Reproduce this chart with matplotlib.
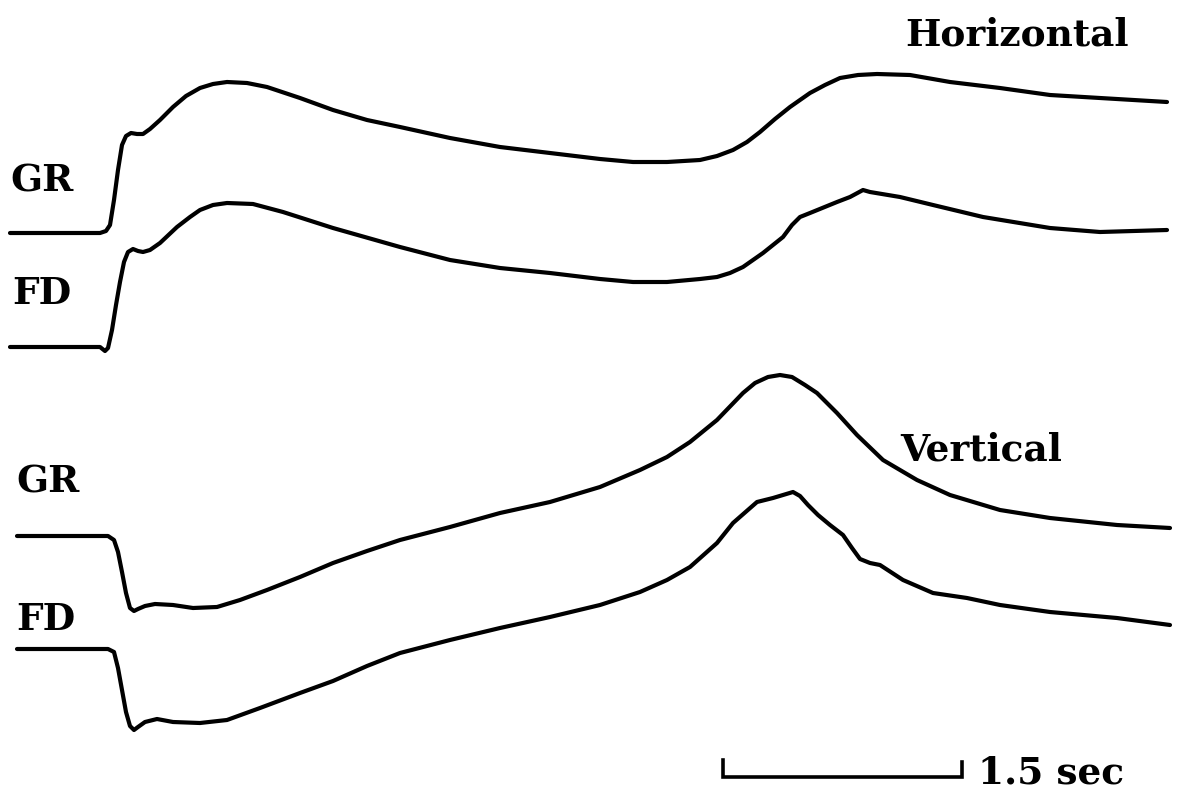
import matplotlib
matplotlib.use('Agg')
import matplotlib.pyplot as plt

# eye position traces (x = time samples, y = position, screen units)
h_gr_t = [10, 100, 106, 110, 114, 118, 122, 126, 131, 137, 143, 150, 160, 173, 186, 200, 213,
          227, 247, 267, 300, 333, 367, 400, 450, 500, 550, 600, 633, 667, 700, 717, 733,
          747, 760, 775, 790, 810, 825, 840, 858, 877, 910, 950, 1000, 1050, 1100, 1167]
h_gr_y = [233, 233, 231, 225, 200, 170, 145, 136, 133, 134, 134, 129, 120, 107, 96, 88, 84,
          82, 83, 87, 98, 110, 120, 127, 138, 147, 153, 159, 162, 162, 160, 156, 150,
          142, 132, 119, 107, 93, 85, 78, 75, 74, 75, 82, 88, 95, 98, 102]

h_fd_t = [10, 100, 105, 108, 112, 116, 120, 124, 128, 133, 138, 143, 150, 160, 177, 190, 200,
          213, 227, 253, 283, 333, 400, 450, 500, 550, 600, 633, 667, 700, 717, 730, 743,
          763, 783, 792, 800, 810, 837, 850, 863, 870, 900, 933, 983, 1050, 1100, 1167]
h_fd_y = [347, 347, 351, 348, 330, 305, 282, 262, 252, 249, 251, 252, 250, 243, 227, 217, 210,
          205, 203, 204, 212, 228, 247, 260, 268, 273, 279, 282, 282, 279, 277, 273, 267,
          253, 237, 225, 217, 213, 202, 197, 190, 192, 197, 205, 217, 228, 232, 230]

v_gr_t = [17, 108, 114, 118, 122, 126, 130, 134, 138, 145, 155, 173, 193, 217, 240, 267, 300,
          333, 367, 400, 450, 500, 550, 600, 640, 667, 690, 717, 743, 755, 768, 780, 792,
          805, 817, 837, 857, 883, 917, 950, 1000, 1050, 1117, 1170]
v_gr_y = [536, 536, 540, 552, 572, 593, 608, 611, 609, 606, 604, 605, 608, 607, 600, 590, 577,
          563, 551, 540, 527, 513, 502, 487, 470, 457, 442, 420, 393, 383, 377, 375, 377,
          385, 393, 413, 435, 460, 480, 495, 510, 518, 525, 528]

v_fd_t = [17, 108, 114, 118, 122, 126, 130, 134, 138, 145, 157, 173, 200, 227, 260, 300, 333,
          367, 400, 450, 500, 550, 600, 640, 667, 690, 717, 733, 757, 773, 783, 793, 800,
          808, 818, 830, 843, 852, 860, 870, 880, 903, 933, 967, 1000, 1050, 1117, 1170]
v_fd_y = [649, 649, 652, 668, 690, 712, 726, 730, 727, 722, 719, 722, 723, 720, 708, 693, 681,
          666, 653, 640, 628, 617, 605, 592, 580, 567, 543, 523, 502, 498, 495, 492, 496,
          505, 515, 525, 535, 548, 559, 563, 565, 580, 593, 598, 605, 612, 618, 625]

# 1.5 sec scale bar
bar_t = [723, 723, 962, 962]
bar_y = [760, 777, 777, 762]

fig = plt.figure(figsize=(11.9, 7.89), dpi=100)
ax = fig.add_axes([0, 0, 1, 1])
ax.set_xlim(0, 1190)
ax.set_ylim(789, 0)
ax.axis('off')

for t, y in [(h_gr_t, h_gr_y), (h_fd_t, h_fd_y), (v_gr_t, v_gr_y), (v_fd_t, v_fd_y)]:
    ax.plot(t, y, color='black', lw=3, solid_joinstyle='round', solid_capstyle='round')
ax.plot(bar_t, bar_y, color='black', lw=2.6, solid_joinstyle='miter')

font = dict(family='DejaVu Serif', fontweight='bold', fontsize=27,
            ha='left', va='baseline', color='black')
ax.text(905, 45, 'Horizontal', **font)
ax.text(900, 460, 'Vertical', **font)
ax.text(10, 191, 'GR', **font)
ax.text(12, 304, 'FD', **font)
ax.text(16, 492, 'GR', **font)
ax.text(16, 630, 'FD', **font)
ax.text(978, 783, '1.5 sec', **font)

fig.savefig('out.png', dpi=100, facecolor='white')
